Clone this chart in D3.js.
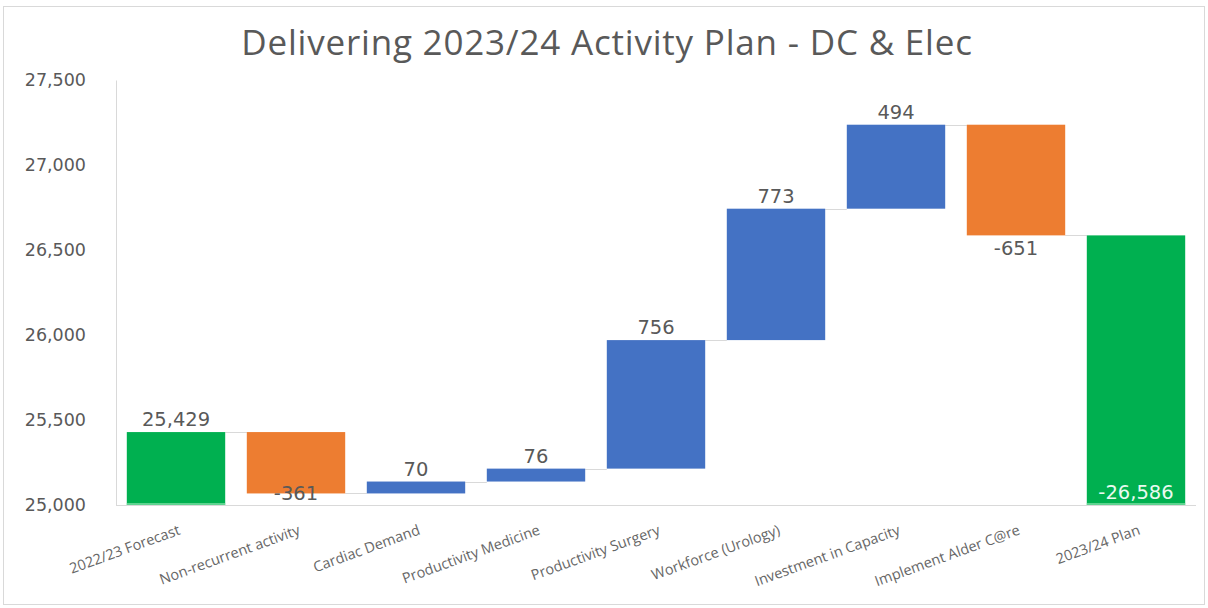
<!DOCTYPE html>
<html>
<head>
<meta charset="utf-8">
<script src="https://cdn.jsdelivr.net/npm/d3@7"></script>
<style>
  html, body { margin: 0; padding: 0; background: #fff; }
  svg { display: block; }
</style>
</head>
<body>
<svg id="chart" width="1208" height="608"></svg>
<script>
// Waterfall steps, in order
const categories = [
  "2022/23 Forecast", "Non-recurrent activity", "Cardiac Demand",
  "Productivity Medicine", "Productivity Surgery", "Workforce (Urology)",
  "Investment in Capacity", "Implement Alder C@re", "2023/24 Plan"
];
const changes = [25429, -361, 70, 76, 756, 773, 494, -651, 26586];
const kinds = ["total", "decrease", "increase", "increase", "increase", "increase", "increase", "decrease", "total"];
const yTicks = [25000, 25500, 26000, 26500, 27000, 27500];

const colors = { total: "#00B050", increase: "#4472C4", decrease: "#ED7D31" };

const W = 1208, H = 608;
const m = { left: 116, right: 12, top: 80, bottom: 103 };

const svg = d3.select("#chart");

// outer frame
svg.append("rect")
  .attr("x", 3.5).attr("y", 6.5).attr("width", W - 7).attr("height", H - 10)
  .attr("fill", "#fff").attr("stroke", "#d9d9d9").attr("stroke-width", 1);

// title
svg.append("text")
  .attr("x", 607).attr("y", 55)
  .attr("text-anchor", "middle")
  .attr("font-family", "'Open Sans', sans-serif")
  .attr("font-size", 35)
  .attr("letter-spacing", 0.8)
  .attr("fill", "#595959")
  .text("Delivering 2023/24 Activity Plan - DC & Elec");

// running totals
let running = 0;
const steps = categories.map((c, i) => {
  let start, end;
  if (kinds[i] === "total") {
    start = yTicks[0];
    end = changes[i];
    running = changes[i];
  } else {
    start = running;
    end = running + changes[i];
    running = end;
  }
  return { cat: c, value: changes[i], kind: kinds[i], start, end };
});

const x = d3.scaleBand()
  .domain(categories)
  .range([m.left, W - m.right])
  .paddingInner(0.18)
  .paddingOuter(0.09);

const y = d3.scaleLinear()
  .domain([yTicks[0], yTicks[yTicks.length - 1]])
  .range([H - m.bottom, m.top]);

// y axis
const yAxis = d3.axisLeft(y)
  .tickValues(yTicks)
  .tickFormat(d3.format(","))
  .tickSize(0)
  .tickPadding(30);
const gy = svg.append("g")
  .attr("transform", `translate(${m.left},0)`)
  .call(yAxis);
gy.select(".domain").attr("stroke", "#d9d9d9");
gy.selectAll("text")
  .attr("font-family", "'DejaVu Sans', sans-serif")
  .attr("font-size", 17.5)
  .attr("fill", "#595959");

// x axis with slanted category names
const xAxis = d3.axisBottom(x).tickSize(0).tickPadding(0);
const gx = svg.append("g")
  .attr("transform", `translate(0,${y(yTicks[0])})`)
  .call(xAxis);
gx.select(".domain").attr("stroke", "#d9d9d9").attr("d", `M${m.left},0.5H${W - m.right}`);
gx.selectAll(".tick text")
  .attr("font-family", "'Open Sans', sans-serif")
  .attr("font-size", 14.5)
  .attr("fill", "#666")
  .attr("text-anchor", "end")
  .attr("y", 0)
  .attr("dy", 0)
  .attr("transform", "translate(5,29) rotate(-20)");

// connectors between consecutive bars
const conn = svg.append("g");
steps.forEach((s, i) => {
  if (i === steps.length - 1) return;
  const level = Math.round(y(s.end)) + 0.5;
  conn.append("line")
    .attr("x1", x(s.cat) + x.bandwidth())
    .attr("x2", x(steps[i + 1].cat))
    .attr("y1", level)
    .attr("y2", level)
    .attr("stroke", "#d9d9d9")
    .attr("stroke-width", 1);
});

// bars
svg.append("g").selectAll("rect")
  .data(steps)
  .join("rect")
  .attr("x", d => x(d.cat))
  .attr("width", x.bandwidth())
  .attr("y", d => y(Math.max(d.start, d.end)))
  .attr("height", d => Math.abs(y(d.start) - y(d.end)))
  .attr("fill", d => colors[d.kind]);

// light edge along the base of total bars
svg.append("g").selectAll("line")
  .data(steps.filter(d => d.kind === "total"))
  .join("line")
  .attr("x1", d => x(d.cat))
  .attr("x2", d => x(d.cat) + x.bandwidth())
  .attr("y1", y(yTicks[0]) - 1)
  .attr("y2", y(yTicks[0]) - 1)
  .attr("stroke", "#7ee0a6")
  .attr("stroke-width", 1.5);

// value labels
const fmtAbs = d3.format(",");
const fmt = v => (v < 0 ? "-" : "") + fmtAbs(Math.abs(v));
const baseY = y(yTicks[0]);
svg.append("g").selectAll("text")
  .data(steps)
  .join("text")
  .attr("x", d => x(d.cat) + x.bandwidth() / 2)
  .attr("y", (d, i) => {
    if (i === steps.length - 1) return baseY - 6;
    if (d.value < 0) return Math.min(y(Math.min(d.start, d.end)) + 20, baseY - 5);
    return y(Math.max(d.start, d.end)) - 6;
  })
  .attr("text-anchor", "middle")
  .attr("font-family", "'DejaVu Sans', sans-serif")
  .attr("font-size", 19.5)
  .attr("fill", (d, i) => i === steps.length - 1 ? "#eafaf0" : "#595959")
  .text((d, i) => i === steps.length - 1 ? "-" + fmt(d.value) : fmt(d.value));
</script>
</body>
</html>
